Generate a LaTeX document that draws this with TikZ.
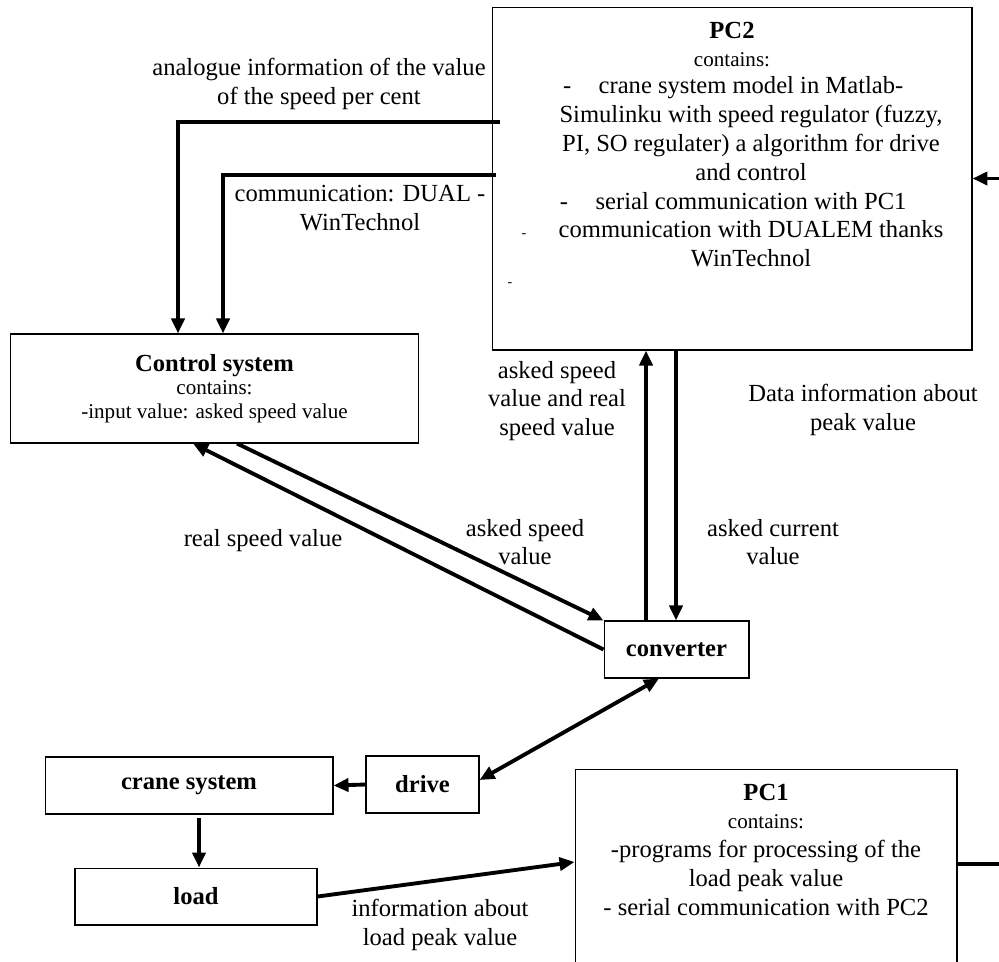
\documentclass[tikz,border=0pt]{standalone}
\usepackage{fontspec}
\setmainfont{Liberation Serif}
\usetikzlibrary{arrows.meta,positioning}

\tikzset{
  every node/.style={font=\fontsize{14}{16.4}\selectfont},
  box/.style={draw, line width=0.6pt, inner sep=0pt, align=center},
  lbl/.style={align=center, inner sep=0pt},
  flow/.style={line width=2.2pt, -{Triangle[length=0.3cm,width=0.26cm]}},
  flowboth/.style={line width=2.2pt, {Triangle[length=0.3cm,width=0.26cm]}-{Triangle[length=0.3cm,width=0.26cm]}},
}
\newcommand{\smalltext}{\fontsize{12}{13.5}\selectfont}

\begin{document}
\begin{tikzpicture}[x=0.02cm,y=-0.02cm]
    \useasboundingbox (0,0) rectangle (999,961);
    \clip (0,0) rectangle (999,961);

    \node[box, minimum width=9.6cm, minimum height=6.86cm] (pc2) at (732,178.5) {};
    \node[lbl, below=0.3cm of pc2.north] (pc2title) {\textbf{PC2}\\{\smalltext contains:}};
    \node[lbl] (pc2list) at (751,172) {\llap{-\hspace{0.55cm}}crane system model in Matlab-\\
        Simulinku with speed regulator (fuzzy,\\
        PI, SO regulater) a algorithm for drive\\
        and control\\
        \llap{-\hspace{0.55cm}}serial communication with PC1\\
        \llap{{\fontsize{8}{8}\selectfont -}\hspace{0.65cm}}communication with DUALEM thanks\\
        WinTechnol};
    \node[lbl, font=\fontsize{8}{8}\selectfont] (pc2dash) at (510,285) {-};

    \node[box, minimum width=8.18cm, minimum height=2.18cm, font=\smalltext] (ctrl) at (214.5,388.5)
        {{\fontsize{14}{16}\selectfont\bfseries Control system}\\contains:\\-input value: asked speed value};
    \node[box, minimum width=2.9cm, minimum height=1.14cm, font=\fontsize{14}{16}\selectfont\bfseries] (conv) at (676.5,649.5) {converter};
    \node[box, minimum width=5.76cm, minimum height=1.14cm, font=\fontsize{14}{16}\selectfont\bfseries] (crane) at (189,785.5) {crane system};
    \node[box, minimum width=2.26cm, minimum height=1.14cm, font=\fontsize{14}{16}\selectfont\bfseries] (drive) at (422.5,784.5) {drive};
    \node[box, minimum width=4.84cm, minimum height=1.14cm, font=\fontsize{14}{16}\selectfont\bfseries] (load) at (196,896.5) {load};

    \node[box, minimum width=7.64cm, minimum height=4.42cm] (pc1) at (766,879.5) {};
    \node[lbl, below=0.3cm of pc1.north] (pc1text) {\textbf{PC1}\\{\smalltext contains:}\\
        -programs for processing of the\\load peak value\\- serial communication with PC2};

    \node[lbl] (l_analog) at (319,84) {analogue information of the value\\of the speed per cent};
    \node[lbl] (l_comm) at (360,208) {communication: DUAL -\\WinTechnol};
    \node[lbl] (l_askreal) at (557,401) {asked speed\\value and real\\speed value};
    \node[lbl] (l_data) at (863,410) {Data information about\\peak value};
    \node[lbl] (l_real) at (263,541) {real speed value};
    \node[lbl] (l_asked) at (525,542) {asked speed\\value};
    \node[lbl] (l_current) at (773,542) {asked current\\value};
    \node[lbl] (l_info) at (440,925) {information about\\load peak value};

    \draw[flow] ([xshift=0.16cm]pc2.west |- 0,122) -| (178,0 |- ctrl.north);
    \draw[flow] ([xshift=0.08cm]pc2.west |- 0,175) -| (223,0 |- ctrl.north);
    \draw[flow] (237,0 |- ctrl.south) -- (conv.north west);
    \draw[flow] (conv.west) -- (193,0 |- ctrl.south);
    \draw[flow] (646,0 |- conv.north) -- (646,0 |- pc2.south);
    \draw[flow] (676,0 |- pc2.south) -- (676,0 |- conv.north);
    \draw[flowboth] (659,0 |- conv.south) -- (drive.east |- 0,780);
    \draw[flow] (drive.west) -- (crane.east);
    \draw[flow, shorten <=2pt] (199,0 |- crane.south) -- (199,0 |- load.north);
    \draw[flow] (load.east) -- (pc1.west |- 0,862);
    \draw[flow] (pc1.east |- 0,864) -- ++(55,0) |- (pc2.east);
\end{tikzpicture}
\end{document}
